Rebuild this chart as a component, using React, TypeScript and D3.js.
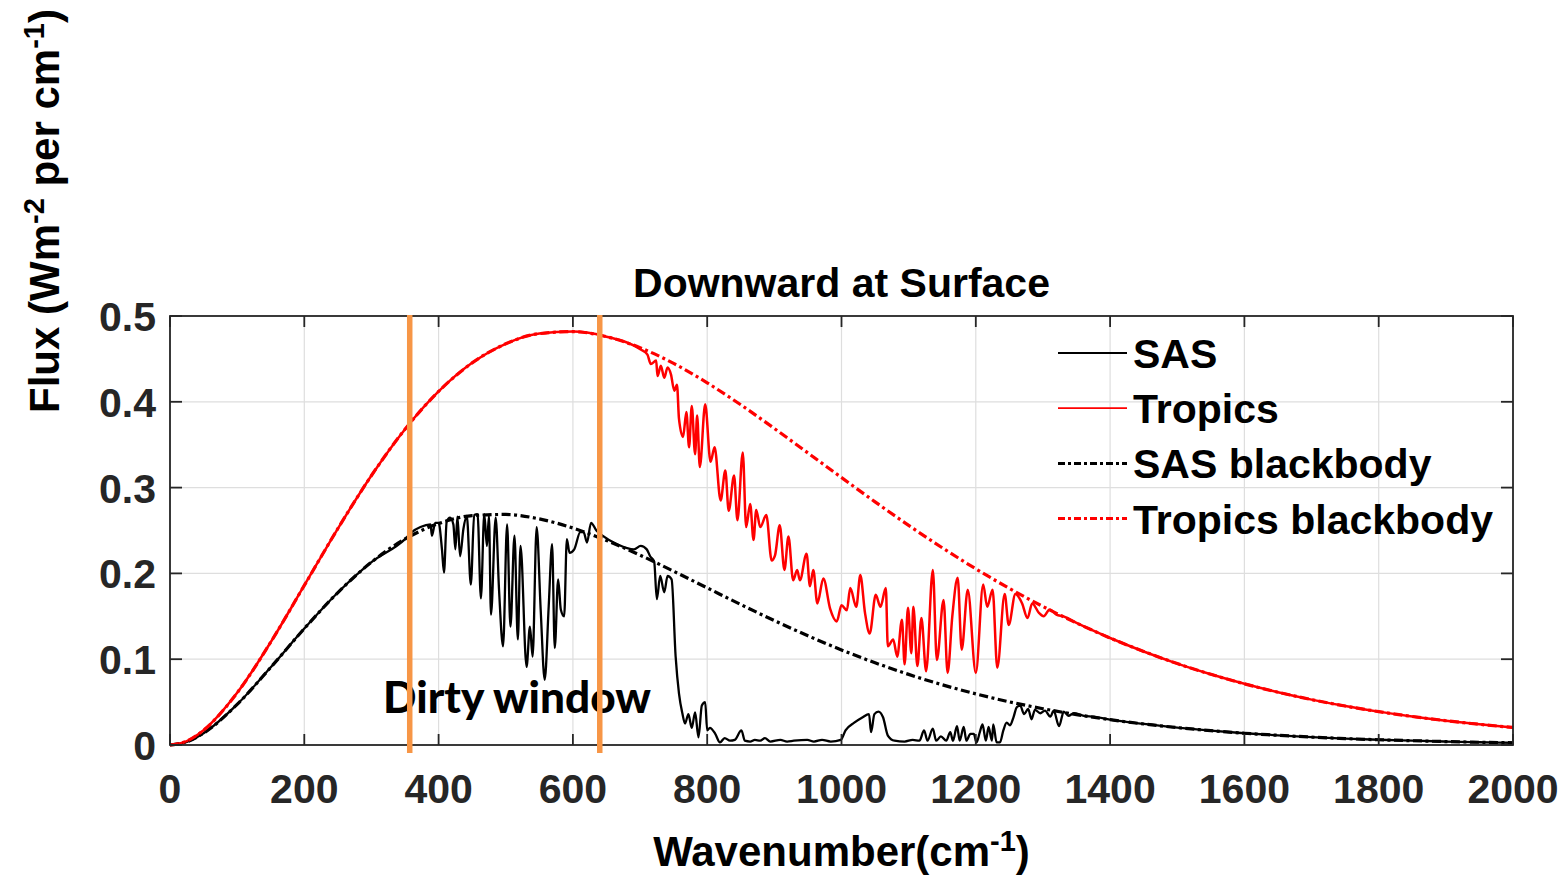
import React from 'react';
import * as d3 from 'd3';

// Blackbody spectra sampled on a common wavenumber grid (cm^-1)
const bbWavenumber = [
  0, 25, 50, 100, 150, 200, 250, 300, 350, 400, 450, 500, 550, 600, 650, 700, 750, 800, 850, 900,
  950, 1000, 1050, 1100, 1150, 1200, 1250, 1300, 1350, 1400, 1450, 1500, 1550, 1600, 1650, 1700,
  1750, 1800, 1850, 1900, 1950, 2000,
];
const sasBlackbody = [
  0, 0.0037, 0.0138, 0.0473, 0.0905, 0.1357, 0.1777, 0.2131, 0.2401, 0.2581, 0.2673, 0.2687,
  0.2635, 0.2529, 0.2384, 0.2213, 0.2025, 0.1831, 0.1637, 0.145, 0.1273, 0.1108, 0.0958, 0.0823,
  0.0702, 0.0596, 0.0503, 0.0423, 0.0354, 0.0295, 0.0245, 0.0203, 0.0167, 0.0137, 0.0113, 0.0092,
  0.0075, 0.0061, 0.005, 0.004, 0.0032, 0.0026,
];
const tropicsBlackbody = [
  0, 0.0046, 0.0173, 0.0608, 0.1199, 0.186, 0.2523, 0.3141, 0.3681, 0.4121, 0.4454, 0.4676,
  0.4795, 0.4818, 0.4759, 0.4631, 0.4447, 0.4221, 0.3965, 0.3689, 0.3404, 0.3117, 0.2834, 0.256,
  0.2299, 0.2053, 0.1825, 0.1614, 0.1422, 0.1247, 0.109, 0.0949, 0.0824, 0.0713, 0.0615, 0.0529,
  0.0454, 0.0389, 0.0332, 0.0283, 0.0241, 0.0204,
];

// Sub-arctic summer downward flux inside its absorption bands [wavenumber, flux]
const sasBand: [number, number][] = [
  [350, 0.24], [360, 0.248], [373, 0.254], [388, 0.257], [390, 0.244], [395, 0.259], [400, 0.259],
  [405, 0.228], [408, 0.201], [412, 0.26], [417, 0.265], [422, 0.257], [425, 0.228], [428, 0.266],
  [432, 0.22], [437, 0.252], [442, 0.267], [448, 0.187], [453, 0.268], [458, 0.269], [463, 0.171],
  [468, 0.269], [472, 0.232], [475, 0.267], [478, 0.152], [485, 0.265], [490, 0.181], [496, 0.115],
  [502, 0.257], [507, 0.138], [513, 0.244], [518, 0.123], [522, 0.232], [531, 0.091], [536, 0.138],
  [540, 0.103], [546, 0.254], [552, 0.158], [558, 0.076], [564, 0.162], [569, 0.234], [573, 0.113],
  [578, 0.193], [582, 0.158], [587, 0.15], [591, 0.24], [595, 0.224], [602, 0.228], [611, 0.248],
  [616, 0.248], [621, 0.236], [627, 0.259], [635, 0.25], [644, 0.244], [666, 0.234], [691, 0.228],
  [701, 0.232], [710, 0.228], [715, 0.22], [721, 0.214], [725, 0.17], [730, 0.197], [736, 0.178],
  [741, 0.197], [747, 0.193], [753, 0.103], [758, 0.06], [763, 0.037], [767, 0.025], [772, 0.036],
  [777, 0.02], [782, 0.038], [787, 0.009], [792, 0.046], [797, 0.05], [800, 0.017], [804, 0.02],
  [812, 0.013], [819, 0.003], [826, 0.008], [834, 0.005], [841, 0.006], [851, 0.017], [856, 0.005],
  [864, 0.004], [871, 0.006], [879, 0.005], [886, 0.008], [894, 0.004], [909, 0.006], [919, 0.004],
  [929, 0.005], [949, 0.006], [959, 0.004], [971, 0.006], [984, 0.004], [999, 0.006], [1006, 0.017],
  [1019, 0.026], [1031, 0.032], [1041, 0.036], [1044, 0.015], [1049, 0.036], [1055, 0.039],
  [1062, 0.032], [1069, 0.011], [1079, 0.005], [1094, 0.004], [1106, 0.006], [1116, 0.005],
  [1123, 0.017], [1128, 0.005], [1136, 0.019], [1141, 0.005], [1148, 0.01], [1156, 0.005],
  [1162, 0.015], [1166, 0.005], [1172, 0.022], [1176, 0.005], [1182, 0.021], [1186, 0.005],
  [1192, 0.013], [1197, 0.013], [1201, 0.003], [1206, 0.015], [1210, 0.024], [1215, 0.005],
  [1219, 0.021], [1224, 0.005], [1226, 0.024], [1231, 0.003], [1236, 0.003], [1241, 0.017],
  [1246, 0.026], [1251, 0.023], [1256, 0.032], [1261, 0.044], [1266, 0.046], [1272, 0.036],
  [1278, 0.042], [1283, 0.03], [1288, 0.041], [1296, 0.037], [1303, 0.04], [1311, 0.033],
  [1316, 0.04], [1324, 0.022], [1331, 0.039], [1338, 0.034], [1346, 0.037], [1361, 0.034],
  [1376, 0.033],
];

// Tropical downward flux inside its absorption bands [wavenumber, flux]
const tropicsBand: [number, number][] = [
  [701, 0.461], [711, 0.455], [716, 0.444], [724, 0.448], [726, 0.43], [731, 0.442], [736, 0.428],
  [741, 0.44], [746, 0.432], [751, 0.413], [755, 0.42], [758, 0.38], [764, 0.359], [769, 0.388],
  [773, 0.347], [777, 0.395], [782, 0.339], [785, 0.384], [789, 0.324], [797, 0.397], [805, 0.33],
  [811, 0.347], [820, 0.285], [827, 0.32], [832, 0.273], [840, 0.314], [845, 0.262], [853, 0.341],
  [858, 0.254], [864, 0.281], [869, 0.239], [873, 0.274], [879, 0.254], [888, 0.268], [896, 0.215],
  [901, 0.221], [908, 0.256], [915, 0.204], [921, 0.243], [928, 0.192], [934, 0.204], [938, 0.192],
  [948, 0.223], [953, 0.185], [958, 0.204], [964, 0.165], [973, 0.194], [983, 0.159], [993, 0.144],
  [1000, 0.163], [1008, 0.157], [1013, 0.183], [1022, 0.161], [1028, 0.198], [1035, 0.154],
  [1042, 0.13], [1051, 0.175], [1058, 0.161], [1066, 0.183], [1069, 0.115], [1077, 0.123],
  [1083, 0.103], [1090, 0.146], [1094, 0.094], [1099, 0.16], [1104, 0.107], [1107, 0.161],
  [1113, 0.092], [1119, 0.148], [1126, 0.086], [1136, 0.204], [1142, 0.099], [1152, 0.169],
  [1158, 0.084], [1165, 0.15], [1173, 0.195], [1179, 0.111], [1188, 0.181], [1200, 0.084],
  [1211, 0.187], [1217, 0.161], [1225, 0.181], [1232, 0.09], [1243, 0.176], [1249, 0.14],
  [1259, 0.176], [1269, 0.165], [1277, 0.148], [1284, 0.165], [1294, 0.154], [1301, 0.15],
  [1310, 0.158], [1320, 0.152], [1330, 0.15],
];

const xTicks = [0, 200, 400, 600, 800, 1000, 1200, 1400, 1600, 1800, 2000];
const yTicks = [0, 0.1, 0.2, 0.3, 0.4, 0.5];
const yTickLabels = ['0', '0.1', '0.2', '0.3', '0.4', '0.5'];
const dirtyWindowEdges = [357, 640];

const legendLabels = ['SAS', 'Tropics', 'SAS blackbody', 'Tropics blackbody'];

const W = 1562;
const H = 878;
const plot = { left: 170, right: 1513, top: 316, bottom: 745 };
const FONT = '"Liberation Sans", Arial, Helvetica, sans-serif';
const AXIS_COLOR = '#262626';
const DASH = '9,3.5,3,3.5';

type Pt = [number, number];

const asPoints = (values: number[]): Pt[] => bbWavenumber.map((w, i) => [w, values[i]] as Pt);

const sasBB = asPoints(sasBlackbody);
const tropicsBB = asPoints(tropicsBlackbody);
// outside the absorption bands the measured flux lies on its blackbody curve
const sasMeasured: Pt[] = [
  ...sasBB.filter((p) => p[0] < 350),
  ...sasBand,
  ...sasBB.filter((p) => p[0] >= 1400),
];
const tropicsMeasured: Pt[] = [
  ...tropicsBB.filter((p) => p[0] < 700),
  ...tropicsBand,
  ...tropicsBB.filter((p) => p[0] >= 1350),
];

export default function App() {
  const x = d3.scaleLinear().domain([0, 2000]).range([plot.left, plot.right]);
  const y = d3.scaleLinear().domain([0, 0.5]).range([plot.bottom, plot.top]);
  const line = d3
    .line<Pt>()
    .x((d) => x(d[0]))
    .y((d) => y(d[1]))
    .curve(d3.curveMonotoneX);

  const series = [
    { data: sasMeasured, color: '#000000', width: 2.3, dash: undefined as string | undefined },
    { data: tropicsMeasured, color: '#ff0000', width: 2.5, dash: undefined as string | undefined },
    { data: sasBB, color: '#000000', width: 3.2, dash: DASH },
    { data: tropicsBB, color: '#ff0000', width: 3.2, dash: DASH },
  ];

  const legendX0 = 1058;
  const legendX1 = 1127;
  const legendY0 = 353;
  const legendStep = 55.2;

  return (
    <svg
      width={W}
      height={H}
      viewBox={`0 0 ${W} ${H}`}
      style={{ position: 'absolute', left: 0, top: 0, background: '#ffffff' }}
    >
      <rect x={0} y={0} width={W} height={H} fill="#ffffff" />
      {/* grid */}
      <g stroke="#dedede" strokeWidth={1.2}>
        {xTicks.map((t) => (
          <line key={`gx${t}`} x1={x(t)} x2={x(t)} y1={plot.top} y2={plot.bottom} />
        ))}
        {yTicks.map((t) => (
          <line key={`gy${t}`} x1={plot.left} x2={plot.right} y1={y(t)} y2={y(t)} />
        ))}
      </g>

      {/* spectra */}
      <g fill="none" strokeLinejoin="round">
        {series.map((s, i) => (
          <path
            key={i}
            d={line(s.data) || ''}
            stroke={s.color}
            strokeWidth={s.width}
            strokeDasharray={s.dash}
          />
        ))}
      </g>

      {/* axes box and ticks */}
      <g stroke={AXIS_COLOR} strokeWidth={1.8} fill="none">
        <rect
          x={plot.left}
          y={plot.top}
          width={plot.right - plot.left}
          height={plot.bottom - plot.top}
        />
        {xTicks.map((t) => (
          <g key={`tx${t}`}>
            <line x1={x(t)} x2={x(t)} y1={plot.bottom} y2={plot.bottom - 11} />
            <line x1={x(t)} x2={x(t)} y1={plot.top} y2={plot.top + 11} />
          </g>
        ))}
        {yTicks.map((t) => (
          <g key={`ty${t}`}>
            <line x1={plot.left} x2={plot.left + 12} y1={y(t)} y2={y(t)} />
            <line x1={plot.right} x2={plot.right - 12} y1={y(t)} y2={y(t)} />
          </g>
        ))}
      </g>

      {/* tick labels */}
      <g fontFamily={FONT} fontWeight="bold" fontSize={41} fill={AXIS_COLOR}>
        {xTicks.map((t) => (
          <text key={`lx${t}`} x={x(t)} y={803} textAnchor="middle">
            {t}
          </text>
        ))}
        {yTicks.map((t, i) => (
          <text key={`ly${t}`} x={156} y={y(t) + 15} textAnchor="end">
            {yTickLabels[i]}
          </text>
        ))}
      </g>

      {/* title and axis labels */}
      <text
        x={(plot.left + plot.right) / 2}
        y={297}
        textAnchor="middle"
        fontFamily={FONT}
        fontWeight="bold"
        fontSize={41}
        fill="#000"
      >
        Downward at Surface
      </text>
      <text
        x={(plot.left + plot.right) / 2}
        y={866}
        textAnchor="middle"
        fontFamily={FONT}
        fontWeight="bold"
        fontSize={42}
        fill="#000"
      >
        Wavenumber(cm
        <tspan dy={-15} fontSize={29}>
          -1
        </tspan>
        <tspan dy={15}>)</tspan>
      </text>
      <text
        transform="translate(59,211) rotate(-90)"
        textAnchor="middle"
        fontFamily={FONT}
        fontWeight="bold"
        fontSize={42}
        fill="#000"
      >
        Flux (Wm
        <tspan dy={-15} fontSize={29}>
          -2
        </tspan>
        <tspan dy={15}> per cm</tspan>
        <tspan dy={-15} fontSize={29}>
          -1
        </tspan>
        <tspan dy={15}>)</tspan>
      </text>

      {/* legend */}
      <g>
        {legendLabels.map((label, i) => {
          const ly = legendY0 + i * legendStep;
          const s = series[i];
          return (
            <g key={label}>
              <line
                x1={legendX0}
                x2={legendX1}
                y1={ly}
                y2={ly}
                stroke={s.color}
                strokeWidth={s.dash ? 3 : 1.8}
                strokeDasharray={s.dash ? '7,3,3,3' : undefined}
              />
              <text
                x={1133}
                y={ly + 15}
                fontFamily={FONT}
                fontWeight="bold"
                fontSize={41}
                fill="#000"
              >
                {label}
              </text>
            </g>
          );
        })}
      </g>

      {/* dirty window annotation */}
      <text
        x={383}
        y={713}
        fontFamily="Lato, 'Open Sans', sans-serif"
        fontWeight={900}
        fontSize={43}
        textLength={268}
        lengthAdjust="spacingAndGlyphs"
        fill="#000"
      >
        Dirty window
      </text>
      {dirtyWindowEdges.map((w) => (
        <line
          key={`dw${w}`}
          x1={x(w)}
          x2={x(w)}
          y1={plot.top - 1}
          y2={plot.bottom + 8}
          stroke="#F79646"
          strokeWidth={5.5}
        />
      ))}
    </svg>
  );
}
